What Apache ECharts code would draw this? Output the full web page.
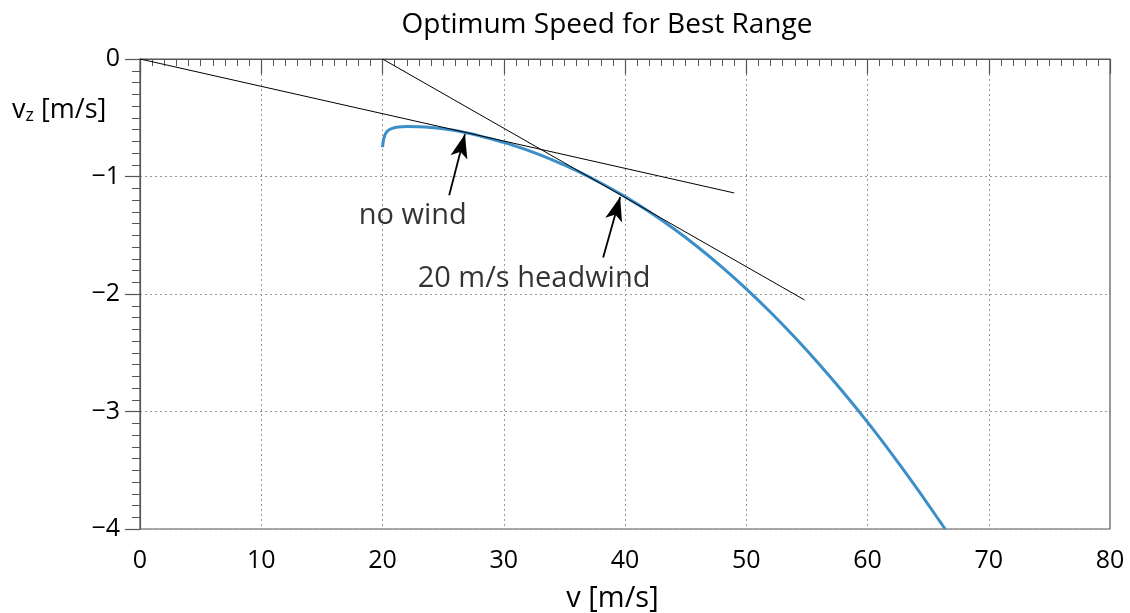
<!DOCTYPE html>
<html><head><meta charset="utf-8">
<script src="https://cdn.jsdelivr.net/npm/echarts@6/dist/echarts.min.js"></script>
<style>html,body{margin:0;padding:0;background:#fff;overflow:hidden}#c{width:1130px;height:613px}</style>
</head><body><div id="c"></div>
<script>
// polar curve: speed v [m/s] and sink rate vz [m/s]
const polarV  = [20, 20.1, 20.25, 20.5, 20.8, 21.3, 22, 23, 24, 25, 26, 27, 28, 29, 30, 32, 34, 36, 38, 40, 42, 44, 46, 48, 50, 52, 54, 56, 58, 60, 62, 64, 66, 66.4];
const polarVz = [-0.75, -0.68, -0.635, -0.605, -0.59, -0.578, -0.575, -0.577, -0.583, -0.594, -0.609, -0.63, -0.654, -0.681, -0.71, -0.778, -0.858, -0.95, -1.055, -1.171, -1.30, -1.443, -1.60, -1.771, -1.956, -2.155, -2.368, -2.595, -2.836, -3.09, -3.36, -3.643, -3.94, -4.0];
// tangent lines
const noWindV = [0, 49];
const noWindVz = [0, -1.14];
const headwindV = [20, 54.8];
const headwindVz = [0, -2.05];
// annotation arrows [tailV, tailVz, tipV, tipVz]
const arrowNoWind = [25.5, -1.16, 26.8, -0.64];
const arrowHeadwind = [38.2, -1.69, 39.6, -1.175];
// annotation labels [v, vz, text]
const labels = [[22.5, -1.336, 'no wind'], [32.5, -1.87, '20 m/s headwind']];
const xTicks = [0, 10, 20, 30, 40, 50, 60, 70, 80];
const yTicks = [-4, -3, -2, -1, 0];

const FONT = 'Open Sans';
const zip = (a, b) => a.map((v, i) => [v, b[i]]);
const chart = echarts.init(document.getElementById('c'));
chart.setOption({
  animation: false,
  textStyle: { fontFamily: FONT },
  title: {
    text: 'Optimum Speed for Best Range', left: 602, top: 6, textAlign: 'center',
    textStyle: { fontFamily: FONT, fontSize: 28, fontWeight: 'normal', color: '#000' }
  },
  grid: { left: 140, right: 20, top: 59, bottom: 84, show: true, borderColor: '#555', borderWidth: 1.2,
          containLabel: false, outerBoundsMode: 'none' },
  xAxis: {
    type: 'value', min: xTicks[0], max: xTicks[xTicks.length - 1], interval: 10,
    name: 'v [m/s]', nameLocation: 'middle', nameGap: 55,
    nameTextStyle: { fontFamily: FONT, fontSize: 29, color: '#000', padding: [0, 25, 0, 0] },
    axisLine: { lineStyle: { color: '#555', width: 1.2 } },
    axisTick: { length: 15, lineStyle: { color: '#555', width: 1.2 } },
    minorTick: { show: true, splitNumber: 10, length: 7, lineStyle: { color: '#555', width: 1 } },
    axisLabel: { fontFamily: FONT, fontSize: 25, color: '#000', margin: 19 },
    splitLine: { show: true, lineStyle: { type: [2, 3], color: '#999', width: 1 } }
  },
  yAxis: {
    type: 'value', min: yTicks[0], max: yTicks[yTicks.length - 1], interval: 1,
    axisLine: { show: true, lineStyle: { color: '#555', width: 1.2 } },
    axisTick: { show: true, length: 15, lineStyle: { color: '#555', width: 1.2 } },
    minorTick: { show: true, splitNumber: 10, length: 8, lineStyle: { color: '#555', width: 1 } },
    axisLabel: { fontFamily: FONT, fontSize: 25, color: '#000', margin: 20,
      formatter: v => String(v).replace('-', '\u2212') },
    splitLine: { show: true, lineStyle: { type: [2, 3], color: '#999', width: 1 } }
  },
  graphic: [{
    type: 'text', left: 12, top: 97,
    style: {
      text: '{v|v}{s|z}{v| [m/s]}',
      rich: {
        v: { fontFamily: FONT, fontSize: 27, fill: '#000' },
        s: { fontFamily: FONT, fontSize: 18, fill: '#000', verticalAlign: 'bottom', padding: [10, 0, 0, 0] }
      }
    }
  }],
  series: [
    {
      type: 'line', data: zip(noWindV, noWindVz), showSymbol: false, silent: true,
      lineStyle: { color: '#000', width: 1 }, z: 3
    },
    {
      type: 'line', data: zip(headwindV, headwindVz), showSymbol: false, silent: true,
      lineStyle: { color: '#000', width: 1 }, z: 3
    },
    {
      type: 'line', data: zip(polarV, polarVz), showSymbol: false, smooth: 0.3, silent: true,
      lineStyle: { color: '#3a8fc8', width: 3 }, z: 2,
      markLine: {
        silent: true, symbol: ['none', 'arrow'], symbolSize: [13, 24],
        lineStyle: { color: '#000', width: 1.8, type: 'solid' }, label: { show: false },
        data: [
          [{ coord: [arrowNoWind[0], arrowNoWind[1]] }, { coord: [arrowNoWind[2], arrowNoWind[3]] }],
          [{ coord: [arrowHeadwind[0], arrowHeadwind[1]] }, { coord: [arrowHeadwind[2], arrowHeadwind[3]] }]
        ]
      }
    },
    {
      type: 'scatter', data: labels.map(l => [l[0], l[1], l[2]]), symbolSize: 0, silent: true,
      label: { show: true, position: 'inside', formatter: p => p.data[2],
        fontFamily: FONT, fontSize: 29, color: '#000', textBorderWidth: 0 }
    }
  ]
});
</script></body></html>
